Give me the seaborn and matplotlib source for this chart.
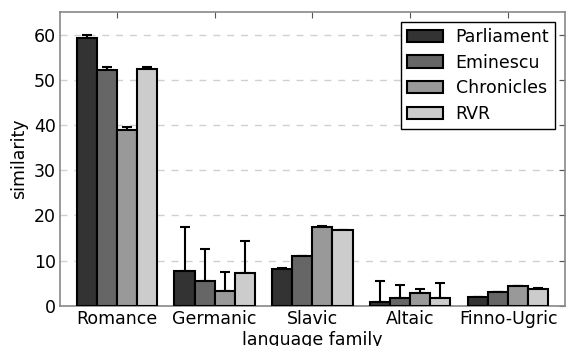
import numpy as np
import pandas as pd
import matplotlib
matplotlib.use("Agg")
import matplotlib.pyplot as plt
import seaborn as sns

# values
families = ["Romance", "Germanic", "Slavic", "Altaic", "Finno-Ugric"]
corpora = ["Parliament", "Eminescu", "Chronicles", "RVR"]
parliament = [59.3, 7.7, 8.1, 0.9, 1.9]
eminescu = [52.2, 5.4, 10.9, 1.8, 2.95]
chronicles = [38.9, 3.3, 17.4, 2.9, 4.35]
rvr = [52.4, 7.3, 16.7, 1.7, 3.75]
parliament_err = [0.7, 9.7, 0.15, 4.5, 0.1]
eminescu_err = [0.6, 7.2, 0.15, 2.7, 0.1]
chronicles_err = [0.6, 4.2, 0.15, 0.8, 0.1]
rvr_err = [0.5, 7.0, 0.15, 3.3, 0.1]

colors = ["#333333", "#666666", "#999999", "#cccccc"]

values = [parliament, eminescu, chronicles, rvr]
errors = [parliament_err, eminescu_err, chronicles_err, rvr_err]

df = pd.DataFrame({
    "family": np.tile(families, len(corpora)),
    "corpus": np.repeat(corpora, len(families)),
    "similarity": np.concatenate(values),
})

sns.set_style("white")
plt.rcParams["font.family"] = ["DejaVu Sans"]
plt.rcParams["text.color"] = "black"
plt.rcParams["axes.labelcolor"] = "black"
plt.rcParams["xtick.color"] = "black"
plt.rcParams["ytick.color"] = "black"

fig = plt.figure(figsize=(5.66, 3.46), dpi=100)
ax = fig.add_axes([0.106, 0.1165, 0.892, 0.8485])

sns.barplot(data=df, x="family", y="similarity", hue="corpus",
            hue_order=corpora, order=families, palette=colors,
            edgecolor="black", linewidth=1.5, errorbar=None, width=0.82,
            saturation=1, ax=ax, zorder=3)

# upper error bars from the drawn bars
for cont, err in zip(ax.containers, errors):
    xs = [b.get_x() + b.get_width() / 2 for b in cont]
    hs = [b.get_height() for b in cont]
    ax.errorbar(xs, hs, yerr=[np.zeros(len(err)), err], fmt="none",
                ecolor="black", elinewidth=1.5, capsize=3.5, capthick=1.5,
                zorder=2)

ax.set_ylim(0, 65)
ax.set_xlim(-0.58, 4.58)
ax.set_yticks(range(0, 61, 10))
ax.yaxis.grid(True, linestyle=(0, (5, 5)), color="#d0d0d0", linewidth=1)
ax.set_axisbelow(True)
ax.set_xlabel("language family", fontsize=12.5, labelpad=2)
ax.set_ylabel("similarity", fontsize=12.5, labelpad=4)
ax.tick_params(direction="in", top=True, right=True, length=4,
               labelsize=12.5, color="#555555", pad=3)
for s in ax.spines.values():
    s.set_color("#888888")
    s.set_linewidth(1.2)

leg = ax.legend(loc="upper right", fontsize=12.5, fancybox=False,
                edgecolor="black", framealpha=1, borderpad=0.35,
                handlelength=2.1, handletextpad=0.7, labelspacing=0.45,
                borderaxespad=0.55)
leg.get_frame().set_linewidth(1)

fig.savefig("out.png", dpi=100)
